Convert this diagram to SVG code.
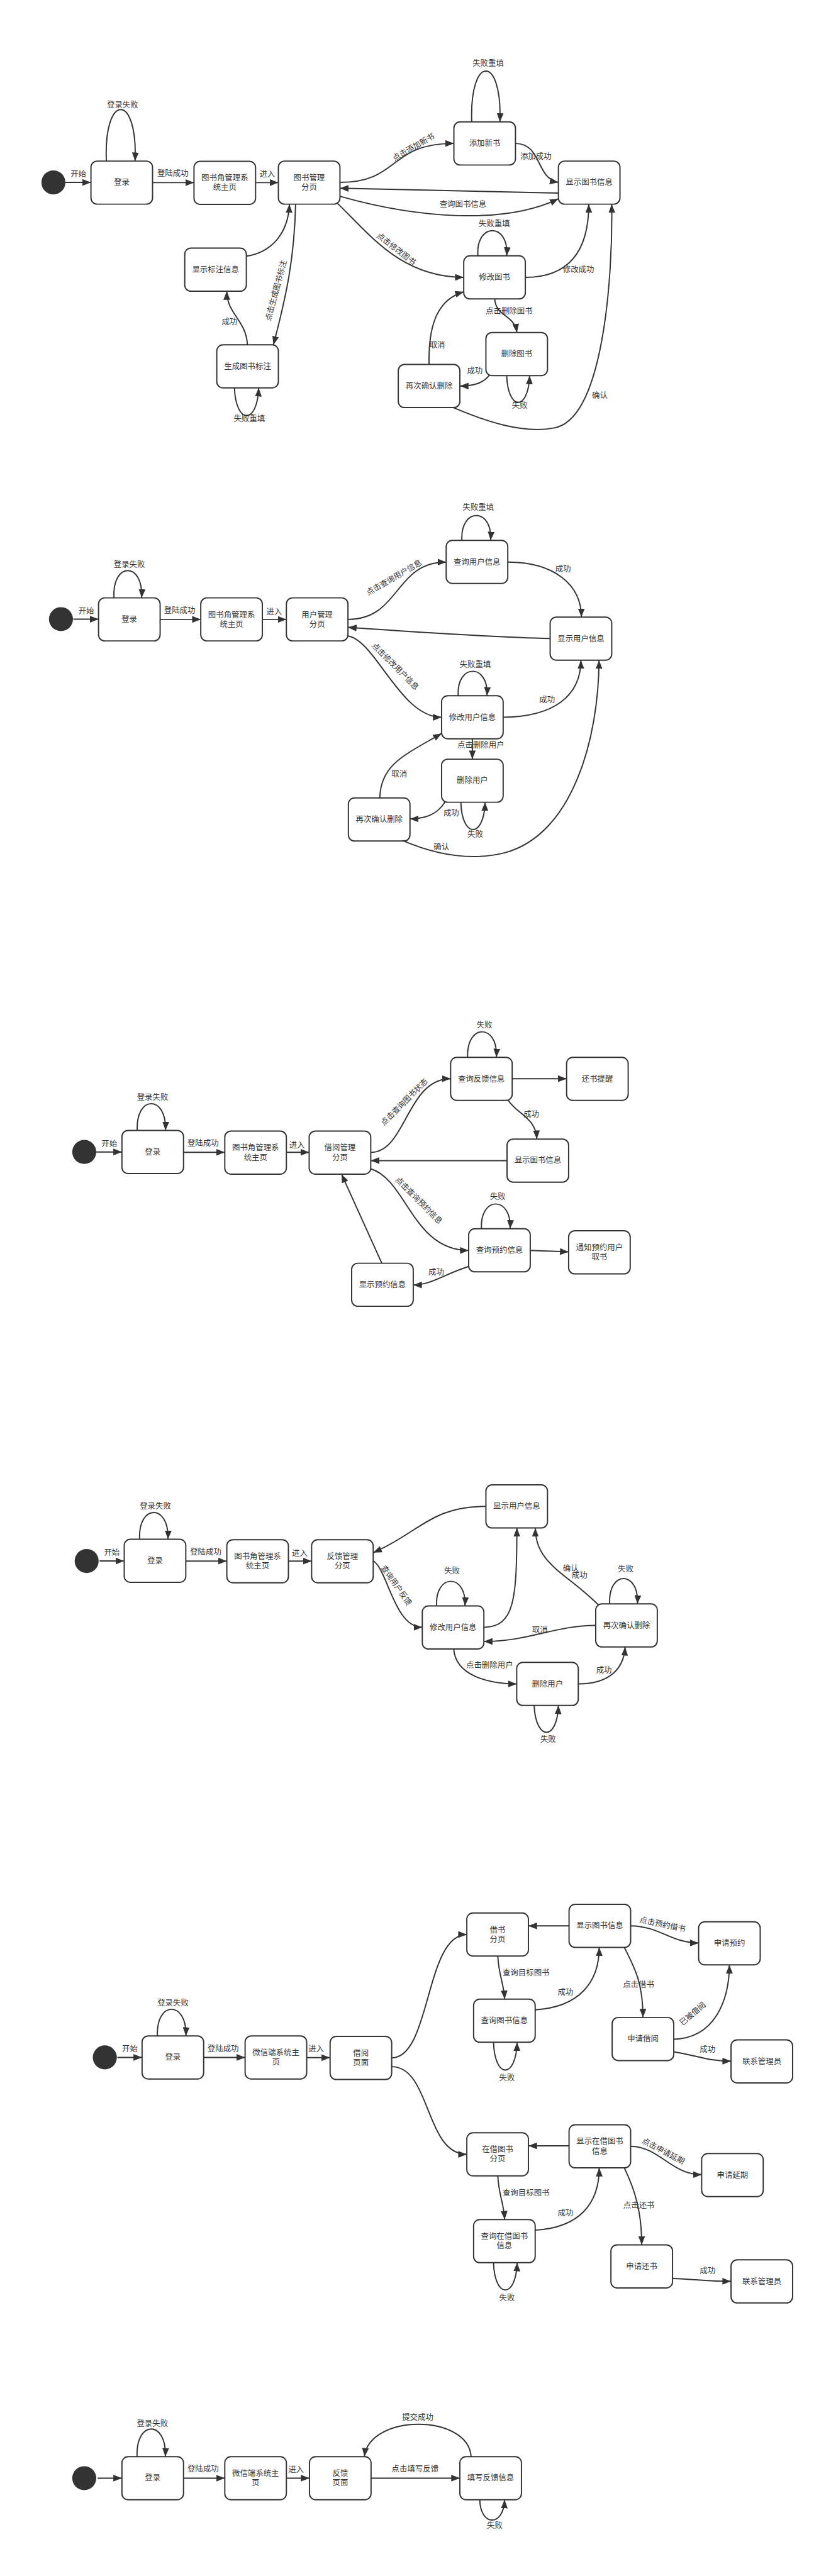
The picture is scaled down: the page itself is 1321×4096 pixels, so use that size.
<svg xmlns="http://www.w3.org/2000/svg" width="1321" height="4096" viewBox="0 0 1321 4096">
<defs>
<marker id="arr" viewBox="0 0 14 11" refX="14" refY="5.5" markerWidth="14" markerHeight="11" markerUnits="userSpaceOnUse" orient="auto"><path d="M0 0 L14 5.5 L0 11 Z" fill="#333"/></marker>
<style>
.node rect{fill:#fff;stroke:#333;stroke-width:2}
.start circle{fill:#333}
#connectors path{fill:none;stroke:#333;stroke-width:2;marker-end:url(#arr)}
text{font-family:"Liberation Sans","Noto Sans CJK SC",sans-serif;font-size:12.7px;fill:#333;text-anchor:middle;dominant-baseline:central}
</style>
</defs>
<rect width="1321" height="4096" fill="#fff"/>
<g transform="scale(0.979)">

<!-- ===== Section 1 nodes ===== -->
<g id="s1-start" class="start"><circle cx="86.7" cy="296.3" r="19.5"/></g>
<g id="s1-login" class="node"><rect x="147.7" y="261.6" width="100" height="70" rx="10"/><text x="197.7" y="296.6">登录</text></g>
<g id="s1-home" class="node"><rect x="315" y="262" width="100" height="70" rx="10"/><text x="365" y="289.3">图书角管理系</text><text x="365" y="304.7">统主页</text></g>
<g id="s1-bookmgr" class="node"><rect x="452" y="261.6" width="100" height="70" rx="10"/><text x="502" y="289">图书管理</text><text x="502" y="304.5">分页</text></g>
<g id="s1-showlabel" class="node"><rect x="300" y="403" width="100" height="70" rx="10"/><text x="350" y="438">显示标注信息</text></g>
<g id="s1-genlabel" class="node"><rect x="352" y="560" width="100" height="70" rx="10"/><text x="402" y="595">生成图书标注</text></g>
<g id="s1-addbook" class="node"><rect x="737" y="198" width="100" height="70" rx="10"/><text x="787" y="233">添加新书</text></g>
<g id="s1-showbook" class="node"><rect x="906.7" y="261.6" width="100" height="70" rx="10"/><text x="956.7" y="296.6">显示图书信息</text></g>
<g id="s1-editbook" class="node"><rect x="753" y="415.5" width="100" height="70" rx="10"/><text x="803" y="450.5">修改图书</text></g>
<g id="s1-delbook" class="node"><rect x="789" y="540" width="100" height="70" rx="10"/><text x="839" y="575">删除图书</text></g>
<g id="s1-confirm" class="node"><rect x="646.7" y="592" width="100" height="70" rx="10"/><text x="696.7" y="627">再次确认删除</text></g>

<!-- ===== Section 2 nodes ===== -->
<g id="s2-start" class="start"><circle cx="99" cy="1005.6" r="19.5"/></g>
<g id="s2-login" class="node"><rect x="160" y="971" width="100" height="70" rx="10"/><text x="210" y="1006">登录</text></g>
<g id="s2-home" class="node"><rect x="326" y="971" width="100" height="70" rx="10"/><text x="376" y="998.5">图书角管理系</text><text x="376" y="1014">统主页</text></g>
<g id="s2-usermgr" class="node"><rect x="465" y="971" width="100" height="70" rx="10"/><text x="515" y="998.5">用户管理</text><text x="515" y="1014">分页</text></g>
<g id="s2-query" class="node"><rect x="724.5" y="877.7" width="100" height="70" rx="10"/><text x="774.5" y="912.7">查询用户信息</text></g>
<g id="s2-show" class="node"><rect x="893.3" y="1002.3" width="100" height="70" rx="10"/><text x="943.3" y="1037.3">显示用户信息</text></g>
<g id="s2-edit" class="node"><rect x="717" y="1130" width="100" height="70" rx="10"/><text x="767" y="1165">修改用户信息</text></g>
<g id="s2-del" class="node"><rect x="717" y="1233" width="100" height="70" rx="10"/><text x="767" y="1268">删除用户</text></g>
<g id="s2-confirm" class="node"><rect x="565.7" y="1296" width="100" height="70" rx="10"/><text x="615.7" y="1331">再次确认删除</text></g>

<!-- ===== Section 3 nodes ===== -->
<g id="s3-start" class="start"><circle cx="136.8" cy="1871" r="19.5"/></g>
<g id="s3-login" class="node"><rect x="198" y="1836" width="100" height="70" rx="10"/><text x="248" y="1871">登录</text></g>
<g id="s3-home" class="node"><rect x="365" y="1837" width="100" height="70" rx="10"/><text x="415" y="1864.5">图书角管理系</text><text x="415" y="1880">统主页</text></g>
<g id="s3-borrowmgr" class="node"><rect x="502" y="1837" width="100" height="70" rx="10"/><text x="552" y="1864.5">借阅管理</text><text x="552" y="1880">分页</text></g>
<g id="s3-feedback" class="node"><rect x="731.7" y="1717.3" width="100" height="70" rx="10"/><text x="781.7" y="1752.3">查询反馈信息</text></g>
<g id="s3-remind" class="node"><rect x="920" y="1717.3" width="100" height="70" rx="10"/><text x="970" y="1752.3">还书提醒</text></g>
<g id="s3-showbook" class="node"><rect x="823.3" y="1850" width="100" height="70" rx="10"/><text x="873.3" y="1885">显示图书信息</text></g>
<g id="s3-queryres" class="node"><rect x="761" y="1995.7" width="100" height="70" rx="10"/><text x="811" y="2030.7">查询预约信息</text></g>
<g id="s3-notify" class="node"><rect x="923.3" y="1999" width="100" height="70" rx="10"/><text x="973.3" y="2026.5">通知预约用户</text><text x="973.3" y="2042">取书</text></g>
<g id="s3-showres" class="node"><rect x="571" y="2051.7" width="100" height="70" rx="10"/><text x="621" y="2086.7">显示预约信息</text></g>

<!-- ===== Section 4 nodes ===== -->
<g id="s4-start" class="start"><circle cx="140.7" cy="2535.3" r="19.5"/></g>
<g id="s4-login" class="node"><rect x="201.7" y="2500" width="100" height="70" rx="10"/><text x="251.7" y="2535">登录</text></g>
<g id="s4-home" class="node"><rect x="368.3" y="2500.7" width="100" height="70" rx="10"/><text x="418.3" y="2528">图书角管理系</text><text x="418.3" y="2543.5">统主页</text></g>
<g id="s4-fbmgr" class="node"><rect x="506" y="2500.7" width="100" height="70" rx="10"/><text x="556" y="2528">反馈管理</text><text x="556" y="2543.5">分页</text></g>
<g id="s4-show" class="node"><rect x="789" y="2411.7" width="100" height="70" rx="10"/><text x="839" y="2446.7">显示用户信息</text></g>
<g id="s4-edit" class="node"><rect x="685.7" y="2608.3" width="100" height="70" rx="10"/><text x="735.7" y="2643.3">修改用户信息</text></g>
<g id="s4-confirm" class="node"><rect x="967.3" y="2605" width="100" height="70" rx="10"/><text x="1017.3" y="2640">再次确认删除</text></g>
<g id="s4-del" class="node"><rect x="839" y="2700" width="100" height="70" rx="10"/><text x="889" y="2735">删除用户</text></g>

<!-- ===== Section 5 nodes ===== -->
<g id="s5-start" class="start"><circle cx="170.2" cy="3341.6" r="19.5"/></g>
<g id="s5-login" class="node"><rect x="230.7" y="3306.6" width="100" height="70" rx="10"/><text x="280.7" y="3341.6">登录</text></g>
<g id="s5-home" class="node"><rect x="398" y="3306.6" width="100" height="70" rx="10"/><text x="448" y="3334">微信端系统主</text><text x="448" y="3349.5">页</text></g>
<g id="s5-borrow" class="node"><rect x="536" y="3307.5" width="100" height="70" rx="10"/><text x="586" y="3335">借阅</text><text x="586" y="3350.5">页面</text></g>
<g id="s5-borrowtab" class="node"><rect x="758" y="3107" width="100" height="70" rx="10"/><text x="808" y="3134.5">借书</text><text x="808" y="3150">分页</text></g>
<g id="s5-showbook" class="node"><rect x="924" y="3093" width="100" height="70" rx="10"/><text x="974" y="3128">显示图书信息</text></g>
<g id="s5-querybook" class="node"><rect x="769" y="3247" width="100" height="70" rx="10"/><text x="819" y="3282">查询图书信息</text></g>
<g id="s5-reserve" class="node"><rect x="1134.4" y="3121.3" width="100" height="70" rx="10"/><text x="1184.4" y="3156.3">申请预约</text></g>
<g id="s5-apply" class="node"><rect x="994" y="3276.7" width="100" height="70" rx="10"/><text x="1044" y="3311.7">申请借阅</text></g>
<g id="s5-contact1" class="node"><rect x="1187" y="3313" width="100" height="70" rx="10"/><text x="1237" y="3348">联系管理员</text></g>
<g id="s5-lenttab" class="node"><rect x="758" y="3464" width="100" height="70" rx="10"/><text x="808" y="3491.5">在借图书</text><text x="808" y="3507">分页</text></g>
<g id="s5-showlent" class="node"><rect x="924" y="3451" width="100" height="70" rx="10"/><text x="974" y="3478.5">显示在借图书</text><text x="974" y="3494">信息</text></g>
<g id="s5-querylent" class="node"><rect x="769" y="3605" width="100" height="70" rx="10"/><text x="819" y="3632.5">查询在借图书</text><text x="819" y="3648">信息</text></g>
<g id="s5-extend" class="node"><rect x="1139.3" y="3497.7" width="100" height="70" rx="10"/><text x="1189.3" y="3532.7">申请延期</text></g>
<g id="s5-return" class="node"><rect x="992" y="3646" width="100" height="70" rx="10"/><text x="1042" y="3681">申请还书</text></g>
<g id="s5-contact2" class="node"><rect x="1187" y="3670.4" width="100" height="70" rx="10"/><text x="1237" y="3705.4">联系管理员</text></g>

<!-- ===== Section 6 nodes ===== -->
<g id="s6-start" class="start"><circle cx="136.8" cy="4025" r="19.5"/></g>
<g id="s6-login" class="node"><rect x="198" y="3990" width="100" height="70" rx="10"/><text x="248" y="4025">登录</text></g>
<g id="s6-home" class="node"><rect x="365" y="3990" width="100" height="70" rx="10"/><text x="415" y="4017.5">微信端系统主</text><text x="415" y="4033">页</text></g>
<g id="s6-fbpage" class="node"><rect x="502.5" y="3990" width="100" height="70" rx="10"/><text x="552.5" y="4017.5">反馈</text><text x="552.5" y="4033">页面</text></g>
<g id="s6-fill" class="node"><rect x="746.7" y="3990" width="100" height="70" rx="10"/><text x="796.7" y="4025">填写反馈信息</text></g>

<!-- ===== Connectors ===== -->
<g id="connectors">
<!-- section 1 -->
<path d="M106.2 296.3 L147.7 296.3"/>
<path d="M172.7 261.6 C 168 150, 224 150, 219.3 261.6"/>
<path d="M247.7 296.6 L315 296.6"/>
<path d="M415 296.6 L452 296.6"/>
<path d="M400 416 C 440 410, 468 380, 470 331.6"/>
<path d="M480 331.6 C 478 420, 465 480, 444 560"/>
<path d="M401.7 560 C 400 520, 368 510, 368.3 473"/>
<path d="M380.7 630 C 383 690, 418 690, 420 630"/>
<path d="M766 198 C 762 88, 816 88, 811.7 198"/>
<path d="M552 296.3 C 650 296, 630 233, 737 233"/>
<path d="M837 233 C 880 233, 870 290, 906.7 296.3"/>
<path d="M906.7 313.5 L552 305.7"/>
<path d="M552 318.8 C 680 355, 820 365, 906.7 322.9"/>
<path d="M546.7 329 C 600 380, 650 450, 753 450.5"/>
<path d="M776 415.5 C 772 361, 827 361, 822.7 415.5"/>
<path d="M853 450.5 C 930 450, 956 400, 956 331.6"/>
<path d="M803.3 485.5 C 805 515, 835 510, 839.3 540"/>
<path d="M822.7 610 C 825 668, 858 668, 860 610"/>
<path d="M795 609 C 785 622, 770 627, 746.7 627"/>
<path d="M696.7 592 C 695 520, 715 485, 753 473.9"/>
<path d="M735 661.6 C 790 685, 850 705, 900 695 C 980 680, 995 450, 993.3 331.6"/>
<text x="199" y="170.6">登录失败</text>
<text x="127.3" y="282.9">开始</text>
<text x="280.7" y="282">登陆成功</text>
<text x="434" y="282.9">进入</text>
<text transform="translate(448.3 471.8) rotate(-75)">点击生成图书标注</text>
<text x="372.7" y="522.9">成功</text>
<text x="405" y="680">失败重填</text>
<text x="792.7" y="103.3">失败重填</text>
<text transform="translate(671.7 239.2) rotate(-30)">点击添加新书</text>
<text x="870" y="254.7">添加成功</text>
<text x="751.7" y="331.8">查询图书信息</text>
<text transform="translate(643.3 404.5) rotate(38)">点击修改图书</text>
<text x="802.7" y="363.7">失败重填</text>
<text x="939.3" y="438.4">修改成功</text>
<text x="826.7" y="505.7">点击删除图书</text>
<text x="844" y="658.8">失败</text>
<text x="771" y="602.4">成功</text>
<text x="710" y="560.8">取消</text>
<text x="974" y="642.4">确认</text>

<!-- section 2 -->
<path d="M119 1005.7 L160 1005.7"/>
<path d="M185 971 C 182 912, 233 912, 230 971"/>
<path d="M260 1006 L326 1006"/>
<path d="M426 1006 L465 1006"/>
<path d="M750 877.7 C 747 824, 800 824, 796.7 877.7"/>
<path d="M565 1006 C 650 1006, 640 913, 724.5 913"/>
<path d="M824.5 913 C 900 913, 944 950, 944 1002.3"/>
<path d="M893.3 1037 C 800 1035, 650 1025, 565 1019"/>
<path d="M565 1033 C 610 1040, 650 1165, 717 1165"/>
<path d="M744 1130 C 741 1077, 794 1077, 790.7 1130"/>
<path d="M817 1165 C 900 1164, 943 1130, 943.3 1072.3"/>
<path d="M767 1200 L767 1233"/>
<path d="M748.3 1303 C 750 1362, 786 1362, 787.7 1303"/>
<path d="M722.7 1302 C 712 1320, 695 1330, 665.7 1330"/>
<path d="M616.7 1296 C 618 1240, 660 1225, 717 1191.2"/>
<path d="M653.3 1365 C 700 1385, 760 1400, 820 1385 C 930 1355, 972 1200, 972.7 1072.3"/>
<text x="210" y="917.3">登录失败</text>
<text x="140" y="992.4">开始</text>
<text x="291.7" y="991.6">登陆成功</text>
<text x="445" y="994.3">进入</text>
<text x="776.7" y="824.8">失败重填</text>
<text transform="translate(640 938.2) rotate(-30)">点击查询用户信息</text>
<text x="914.3" y="924.4">成功</text>
<text transform="translate(641.7 1082.5) rotate(45)">点击修改用户信息</text>
<text x="771.7" y="1079.3">失败重填</text>
<text x="888.3" y="1136.6">成功</text>
<text x="780.7" y="1210.2">点击删除用户</text>
<text x="771.7" y="1355.2">失败</text>
<text x="732.7" y="1320.8">成功</text>
<text x="648.3" y="1257.6">取消</text>
<text x="716.7" y="1376.2">确认</text>

<!-- section 3 -->
<path d="M156.3 1871 L198 1871"/>
<path d="M222.9 1836 C 220 1778, 271 1778, 268.7 1836"/>
<path d="M298 1871.5 L365 1871.5"/>
<path d="M465 1871.5 L502 1871.5"/>
<path d="M759.3 1717.3 C 757 1662, 809 1662, 806 1717.3"/>
<path d="M831.7 1752 L920 1752"/>
<path d="M602 1871.7 C 660 1871, 660 1752, 731.7 1752"/>
<path d="M825 1786.7 C 840 1810, 870 1815, 871.7 1850"/>
<path d="M823.3 1885 L602 1885"/>
<path d="M601.7 1898.3 C 660 1915, 670 2031, 761 2031"/>
<path d="M781.7 1995.7 C 779 1942, 831 1942, 828.3 1995.7"/>
<path d="M861 2031 L923.3 2033.3"/>
<path d="M761.7 2056.7 C 720 2070, 700 2087, 671 2087"/>
<path d="M620 2051.7 L554.5 1907"/>
<text x="247.7" y="1782.3">登录失败</text>
<text x="177.5" y="1857.7">开始</text>
<text x="329.7" y="1856.7">登陆成功</text>
<text x="482.2" y="1860">进入</text>
<text x="786.7" y="1665">失败</text>
<text transform="translate(656.7 1790) rotate(-45)">点击查询图书状态</text>
<text x="862.7" y="1810">成功</text>
<text transform="translate(680 1950) rotate(45)">点击查询预约信息</text>
<text x="808.3" y="1944">失败</text>
<text x="708.3" y="2066.7">成功</text>

<!-- section 4 -->
<path d="M161.7 2535.3 L201.7 2535.3"/>
<path d="M226.7 2500 C 224 2442, 275 2442, 272.7 2500"/>
<path d="M301.7 2535.5 L368.3 2535.5"/>
<path d="M468.3 2535.5 L506 2535.5"/>
<path d="M789 2446.7 C 700 2446, 680 2490, 606 2521.7"/>
<path d="M606 2535 C 630 2550, 640 2643, 685.7 2643"/>
<path d="M709 2608.3 C 706 2555, 758 2555, 755 2608.3"/>
<path d="M785.7 2643 C 835 2642, 839 2600, 839.3 2481.7"/>
<path d="M990 2605 C 987 2550, 1038 2550, 1035 2605"/>
<path d="M971.7 2606.7 C 920 2555, 869 2540, 869.3 2481.7"/>
<path d="M967.3 2640 C 900 2640, 860 2666, 785.7 2666"/>
<path d="M736.7 2678.3 C 740 2720, 790 2735, 839 2735"/>
<path d="M867.3 2770 C 870 2828, 905 2828, 906.7 2770"/>
<path d="M939 2735 C 990 2735, 1013 2710, 1015 2675"/>
<text x="252.3" y="2446.7">登录失败</text>
<text x="181.7" y="2521.7">开始</text>
<text x="334" y="2520.7">登陆成功</text>
<text x="486.7" y="2523.3">进入</text>
<text transform="translate(643.3 2575) rotate(55)">查询用户反馈</text>
<text x="734" y="2551.7">失败</text>
<text x="926.7" y="2547.3">确认</text>
<text x="941" y="2559">成功</text>
<text x="1016" y="2548.3">失败</text>
<text x="876.7" y="2647.3">取消</text>
<text x="795" y="2705">点击删除用户</text>
<text x="890" y="2825">失败</text>
<text x="980.7" y="2712.7">成功</text>

<!-- section 5 -->
<path d="M190.5 3341.6 L230.7 3341.6"/>
<path d="M255.6 3306.6 C 253 3249, 304 3249, 301.8 3306.6"/>
<path d="M330.7 3341.6 L398 3341.6"/>
<path d="M498 3342 L536 3342"/>
<path d="M636 3342.3 C 700 3342, 690 3142, 758 3142"/>
<path d="M636 3356.6 C 700 3357, 690 3499, 758 3499"/>
<path d="M924 3128 L858 3128"/>
<path d="M808.3 3177 C 810 3210, 818 3220, 819.4 3247"/>
<path d="M869 3264.2 C 940 3260, 973 3220, 973 3163"/>
<path d="M801.4 3317 C 803 3377, 838 3377, 839.7 3317"/>
<path d="M1024 3128 C 1070 3128, 1090 3155.7, 1134.4 3155.7"/>
<path d="M1013.8 3163 C 1030 3195, 1044 3220, 1044 3276.7"/>
<path d="M1094 3312 C 1160 3310, 1184 3250, 1184.4 3191.3"/>
<path d="M1094 3332.5 C 1130 3338, 1150 3347.7, 1187 3347.7"/>
<path d="M924 3485.2 L858 3485.2"/>
<path d="M808.3 3534 C 810 3567, 818 3577, 819.4 3605"/>
<path d="M869 3622.2 C 940 3618, 973 3580, 973 3521"/>
<path d="M801.4 3675 C 803 3734, 838 3734, 839.7 3675"/>
<path d="M1024 3486 C 1070 3486, 1090 3532, 1139.3 3532"/>
<path d="M1013.8 3521 C 1030 3555, 1042 3590, 1042 3646"/>
<path d="M1092 3700.8 C 1130 3702, 1150 3705.3, 1187 3705.3"/>
<text x="280.9" y="3253">登录失败</text>
<text x="210.9" y="3328">开始</text>
<text x="362.3" y="3328">登陆成功</text>
<text x="513.3" y="3328">进入</text>
<text x="854.2" y="3203.9">查询目标图书</text>
<text x="918.1" y="3236.1">成功</text>
<text x="823.2" y="3374.5">失败</text>
<text transform="translate(1075.8 3125.8) rotate(12)">点击预约借书</text>
<text x="1036.8" y="3224">点击借书</text>
<text transform="translate(1124.8 3270.9) rotate(-40)">已被借阅</text>
<text x="1148.9" y="3328.9">成功</text>
<text x="854.2" y="3562">查询目标图书</text>
<text x="918.1" y="3594.6">成功</text>
<text x="823.2" y="3732">失败</text>
<text transform="translate(1077 3494) rotate(28)">点击申请延期</text>
<text x="1037.5" y="3582.5">点击还书</text>
<text x="1148.9" y="3688.3">成功</text>

<!-- section 6 -->
<path d="M158.6 4025 L198 4025"/>
<path d="M222.6 3990 C 220 3930, 271 3930, 268.5 3990"/>
<path d="M298 4025 L365 4025"/>
<path d="M465 4025 L502.5 4025"/>
<path d="M602.5 4025 L746.7 4025"/>
<path d="M765 3990 C 760 3920, 600 3920, 591.7 3990"/>
<path d="M779 4060 C 780 4104, 818 4104, 819.3 4060"/>
<text x="247.5" y="3936.7">登录失败</text>
<text x="329.7" y="4010.7">登陆成功</text>
<text x="480.7" y="4011.7">进入</text>
<text x="674" y="4010.7">点击填写反馈</text>
<text x="678.3" y="3926">提交成功</text>
<text x="803.3" y="4101.7">失败</text>
</g>
</g>
</svg>
